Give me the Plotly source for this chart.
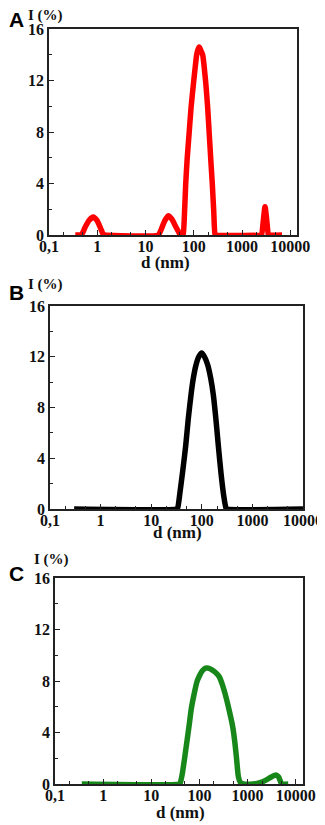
import plotly.graph_objects as go

OFF = 8           # the page body adds an 8px margin; positions below are window pixels
W, H = 325, 825

# ---- data (d in nm, intensity in %) ----
d_A = [0.35, 0.45, 0.48, 0.56, 0.68, 0.83, 0.98, 1.15, 1.33, 1.45,
       18.4, 21, 25, 29.7, 35, 43, 51.9, 56,
       58, 60.7, 64, 68, 73, 79.8, 88, 98, 115, 122, 130, 138, 153, 179, 195, 210, 226, 243,
       260, 275, 290,
       2450, 2560, 2780, 3000, 3250, 3510, 3650, 6750]
I_A = [0, 0, 0.05, 0.6, 1.15, 1.4, 1.15, 0.6, 0.05, 0,
       0, 0.4, 1.1, 1.5, 1.25, 0.6, 0.05, 0,
       0, 0.1, 1.5, 3.9, 5.9, 7.8, 9.9, 11.65, 14.0, 14.4, 14.6, 14.4, 14.0, 11.65, 9.8, 7.8, 5.8,
       3.9, 1.8, 0.1, 0,
       0, 0.05, 1.2, 2.2, 1.2, 0.05, 0, 0]

d_B = [0.3, 31, 33.4, 37, 42, 48.1, 54, 61.2, 68, 76.8, 87, 99.5, 113, 131, 150, 169, 190,
       212, 240, 270, 300, 315, 10000]
I_B = [0, 0, 0.1, 1.3, 3.0, 5.0, 7.1, 9.0, 10.3, 11.35, 12.0, 12.3, 12.0, 11.35, 10.3, 9.0, 7.1,
       5.0, 2.8, 1.1, 0.1, 0, 0]

d_C = [0.36, 38, 40, 44, 50, 60.5, 68, 78, 88, 97.7, 115, 135, 152, 175, 210, 258, 300, 339,
       410, 490, 546, 593, 640, 700, 813, 1312, 1800, 2400, 3100, 3880, 4400, 4700, 5090, 6980]
I_C = [0, 0, 0.1, 0.8, 2.2, 4.45, 5.9, 7.04, 7.9, 8.33, 8.8, 9.0, 9.0, 8.9, 8.7, 8.33, 7.7, 7.04,
       5.8, 4.45, 3.16, 1.86, 0.6, 0.15, 0, 0, 0.1, 0.3, 0.55, 0.7, 0.55, 0.3, 0, 0]

x_tickvals = [0.1, 1, 10, 100, 1000, 10000]
x_ticktext = ["0,1", "1", "10", "100", "1000", "10000"]
y_tickvals = [0, 4, 8, 12, 16]

panels = [
    # data, color, letter, px box (left, right, top, bottom), log range
    (d_A, I_A, "#ff0000", "A", (49, 297, 29, 235), [-1, 4.14]),
    (d_B, I_B, "#000000", "B", (50, 303, 306, 509), [-1, 4.0]),
    (d_C, I_C, "#17871a", "C", (55, 303, 578, 784), [-1, 4.15]),
]
# "I (%)" left x, centre y ; letter left x, centre y ; "d (nm)" centre x,y   (window pixels)
title_pos = [(27, 16, 8, 20, 165, 262), (27, 285, 8, 292, 177, 532), (33, 559, 8, 573, 180, 812)]


def px(x):
    return (x - OFF) / W


def py(y):
    return 1 - (y - OFF) / H


serif = "Times New Roman, Liberation Serif, DejaVu Serif, serif"
fig = go.Figure()
annotations = []
layout = {}
for i, (xs, ys, col, letter, box, xr) in enumerate(panels):
    n = "" if i == 0 else str(i + 1)
    l, r, t, b = box
    ix, iy, lx, ly, dx, dy = title_pos[i]
    fig.add_trace(go.Scatter(x=xs, y=ys, mode="lines", xaxis="x" + n, yaxis="y" + n,
                             line=dict(color=col, width=5.5, shape="spline", smoothing=0.5),
                             showlegend=False, hoverinfo="x+y"))
    layout["xaxis" + n] = dict(
        type="log", range=xr, domain=[px(l), px(r)], anchor="y" + n,
        tickvals=x_tickvals, ticktext=x_ticktext, ticks="inside", ticklen=5,
        tickwidth=1.2, tickcolor="#222", showgrid=False, zeroline=False,
        showline=True, linecolor="#222", linewidth=1.5, mirror=True, automargin=False,
        ticklabelstandoff=-4,
        tickfont=dict(family=serif, size=16, color="#111", weight="bold"),
        minor=dict(ticks="inside", ticklen=3, tickcolor="#222", showgrid=False),
    )
    layout["yaxis" + n] = dict(
        range=[0, 16], domain=[py(b), py(t)], anchor="x" + n,
        tickvals=y_tickvals, ticks="inside", ticklen=5, tickwidth=1.2, tickcolor="#222",
        showgrid=False, zeroline=False, showline=True, linecolor="#222", linewidth=1.5,
        mirror=True, automargin=False,
        tickfont=dict(family=serif, size=16, color="#111", weight="bold"),
        minor=dict(dtick=2, ticks="inside", ticklen=3, tickcolor="#222", showgrid=False),
    )
    annotations.append(dict(text="<b>I (%)</b>", xref="paper", yref="paper",
                            x=px(ix), y=py(iy), xanchor="left", yanchor="middle",
                            showarrow=False, borderpad=0,
                            font=dict(family=serif, size=15, color="#111", weight="bold")))
    annotations.append(dict(text="<b>" + letter + "</b>", xref="paper", yref="paper",
                            x=px(lx), y=py(ly), xanchor="left", yanchor="middle",
                            showarrow=False, borderpad=0,
                            font=dict(family="Liberation Sans, Arial, sans-serif", size=21,
                                      color="#000", weight="bold")))
    annotations.append(dict(text="<b>d (nm)</b>", xref="paper", yref="paper",
                            x=px(dx), y=py(dy), xanchor="center", yanchor="middle",
                            showarrow=False,
                            font=dict(family=serif, size=17, color="#111", weight="bold")))

fig.update_layout(width=W, height=H,
                  margin=dict(l=0, r=0, t=0, b=0, pad=0, autoexpand=False),
                  plot_bgcolor="white", paper_bgcolor="white",
                  annotations=annotations, **layout)
fig.write_html("out.html")
